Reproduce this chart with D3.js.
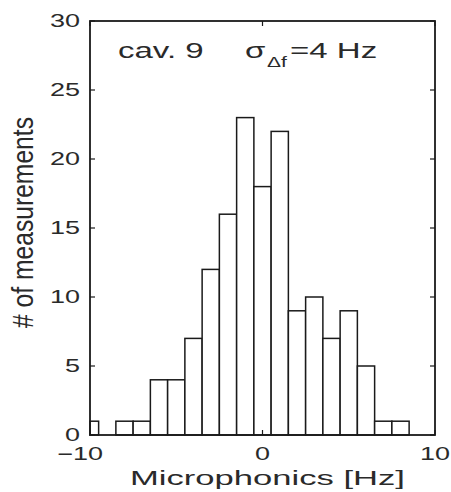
<!DOCTYPE html>
<meta charset="utf-8">
<script src="https://d3js.org/d3.v7.min.js"></script>
<style>
body { margin: 0; background: #fff; }
text { font-family: "Liberation Sans", Arial, Helvetica, sans-serif; fill: #2a2a2a; }
</style>
<div id="my_dataviz"></div>
<script>

// bin centres and counts
var binCenters = [-10, -9, -8, -7, -6, -5, -4, -3, -2, -1, 0, 1, 2, 3, 4, 5, 6, 7, 8, 9, 10];
var counts     = [  1,  0,  1,  1,  4,  4,  7, 12, 16, 23, 18, 22, 9, 10, 7, 9, 5, 1, 1, 0, 0];
var yTicks = [0, 5, 10, 15, 20, 25, 30];
var xTicks = [-10, 0, 10];

var margin = {top: 21, right: 16, bottom: 57, left: 90},
    width = 451 - margin.left - margin.right,
    height = 492 - margin.top - margin.bottom;

// the reference's text is stretched sideways
var stretch = 1.5;

var svg = d3.select("#my_dataviz")
  .append("svg")
    .attr("width", 451)
    .attr("height", 492)
  .append("g")
    .attr("transform", "translate(" + margin.left + "," + margin.top + ")");

var x = d3.scaleLinear().domain([-10, 10]).range([0, width]).clamp(true);
var y = d3.scaleLinear().domain([0, 30]).range([height, 0]);

var data = binCenters.map(function(c, i) { return {c: c, n: counts[i]}; });

// bars
svg.append("g")
  .selectAll("rect")
  .data(data)
  .enter().append("rect")
    .attr("x", function(d) { return x(d.c - 0.5); })
    .attr("width", function(d) { return x(d.c + 0.5) - x(d.c - 0.5); })
    .attr("y", function(d) { return y(d.n); })
    .attr("height", function(d) { return height - y(d.n); })
    .attr("fill", "#fff")
    .attr("stroke", "#1a1a1a")
    .attr("stroke-width", 1.5);

// box
svg.append("rect")
  .attr("width", width)
  .attr("height", height)
  .attr("fill", "none")
  .attr("stroke", "#1a1a1a")
  .attr("stroke-width", 1.8);

// inward ticks on all four sides
var tickLen = 5;
var ticks = svg.append("g").attr("stroke", "#1a1a1a").attr("stroke-width", 1.2);
yTicks.forEach(function(t) {
  ticks.append("line").attr("x1", 0).attr("x2", tickLen).attr("y1", y(t)).attr("y2", y(t));
  ticks.append("line").attr("x1", width).attr("x2", width - tickLen).attr("y1", y(t)).attr("y2", y(t));
});
xTicks.forEach(function(t) {
  ticks.append("line").attr("x1", x(t)).attr("x2", x(t)).attr("y1", height).attr("y2", height - tickLen);
  ticks.append("line").attr("x1", x(t)).attr("x2", x(t)).attr("y1", 0).attr("y2", tickLen);
});

// y tick labels
svg.append("g")
  .selectAll("text")
  .data(yTicks)
  .enter().append("text")
    .attr("transform", function(d) { return "translate(-10," + y(d) + ") scale(" + stretch + ",1)"; })
    .attr("dy", "0.36em")
    .attr("text-anchor", "end")
    .style("font-size", "18px")
    .text(function(d) { return d; });

// x tick labels (the minus hangs out to the left of the number)
svg.append("g")
  .selectAll("text")
  .data(xTicks)
  .enter().append("text")
    .attr("transform", function(d) {
      var off = d < 0 ? 13 : 0;
      return "translate(" + (x(d) + off) + "," + (height + 25) + ") scale(" + stretch + ",1)";
    })
    .attr("text-anchor", function(d) { return d < 0 ? "end" : "middle"; })
    .style("font-size", "18px")
    .text(function(d) { return d < 0 ? "\u2212" + Math.abs(d) : d; });

// axis titles
svg.append("text")
  .attr("x", 130 - margin.left)
  .attr("y", 485 - margin.top)
  .attr("textLength", 275)
  .attr("lengthAdjust", "spacingAndGlyphs")
  .style("font-size", "21px")
  .text("Microphonics [Hz]");

svg.append("text")
  .attr("transform", "translate(" + (33 - margin.left) + "," + (328 - margin.top) + ") scale(" + stretch + ",1) rotate(-90)")
  .attr("textLength", 211)
  .attr("lengthAdjust", "spacingAndGlyphs")
  .style("font-size", "20px")
  .text("# of measurements");

// annotation
var note = svg.append("text")
  .attr("transform", "translate(" + (118 - margin.left) + "," + (58 - margin.top) + ") scale(" + stretch + ",1)")
  .style("font-size", "22px");
note.append("tspan").attr("x", 0).text("cav. 9");
note.append("tspan").attr("x", 84.7).text("\u03c3");
note.append("tspan").attr("x", 99.3).attr("dy", 9).style("font-size", "14px").text("\u0394f");
note.append("tspan").attr("x", 114.7).attr("dy", -9).text("=4 Hz");

</script>
